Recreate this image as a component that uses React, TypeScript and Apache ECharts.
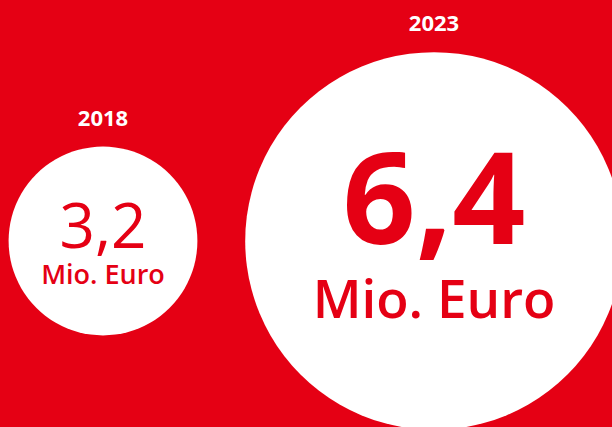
import React, { useEffect, useRef } from "react";
import * as echarts from "echarts";

const years = ["2018", "2023"];
const values = [3.2, 6.4];
const valueLabels = ["3,2", "6,4"];
const unitLabel = "Mio. Euro";

const RED = "#e50014";
const FONT = "'Open Sans', 'Noto Sans', sans-serif";

export default function App() {
  const ref = useRef<HTMLDivElement>(null);
  useEffect(() => {
    const chart = echarts.init(ref.current!, null, { renderer: "svg" });
    const richStyles = [
      {
        num: { fontSize: 62, fontWeight: 400, lineHeight: 64, color: RED, fontFamily: FONT },
        unit: { fontSize: 27, fontWeight: 600, lineHeight: 34, color: RED, fontFamily: FONT },
      },
      {
        num: { fontSize: 128, fontWeight: 700, lineHeight: 113, color: RED, fontFamily: FONT },
        unit: { fontSize: 53, fontWeight: 600, lineHeight: 93, color: RED, fontFamily: FONT },
      },
    ];
    const circleData = years.map((y, i) => ({
      value: [y, 0, values[i]],
      label: { rich: richStyles[i] },
    }));
    const yearData = years.map((y, i) => [y, 0, values[i]]);
    const size = (v: any) => v[2] * 59;
    chart.setOption({
      animation: false,
      backgroundColor: RED,
      grid: { left: 103, right: 178, top: 55, bottom: 0 },
      xAxis: { type: "category", data: years, boundaryGap: false, show: false },
      yAxis: { type: "value", min: -1, max: 1, show: false },
      series: [
        {
          type: "scatter",
          silent: true,
          clip: false,
          z: 1,
          data: yearData,
          symbolSize: size,
          itemStyle: { color: RED, opacity: 1 },
          label: {
            show: true,
            position: "top",
            distance: 19,
            formatter: (p: any) => years[p.dataIndex],
            color: "#ffffff",
            fontSize: 22,
            lineHeight: 22,
            fontWeight: 700,
            fontFamily: FONT,
          },
        },
        {
          type: "scatter",
          silent: true,
          clip: false,
          z: 2,
          data: circleData,
          symbolSize: size,
          itemStyle: { color: "#ffffff", opacity: 1 },
          label: {
            show: true,
            position: "inside",
            align: "center",
            verticalAlign: "middle",
            formatter: (p: any) => `{num|${valueLabels[p.dataIndex]}}\n{unit|${unitLabel}}`,
          },
        },
      ],
    });
    return () => chart.dispose();
  }, []);
  return (
    <div
      ref={ref}
      style={{ position: "fixed", left: 0, top: 0, width: 612, height: 427 }}
    />
  );
}
